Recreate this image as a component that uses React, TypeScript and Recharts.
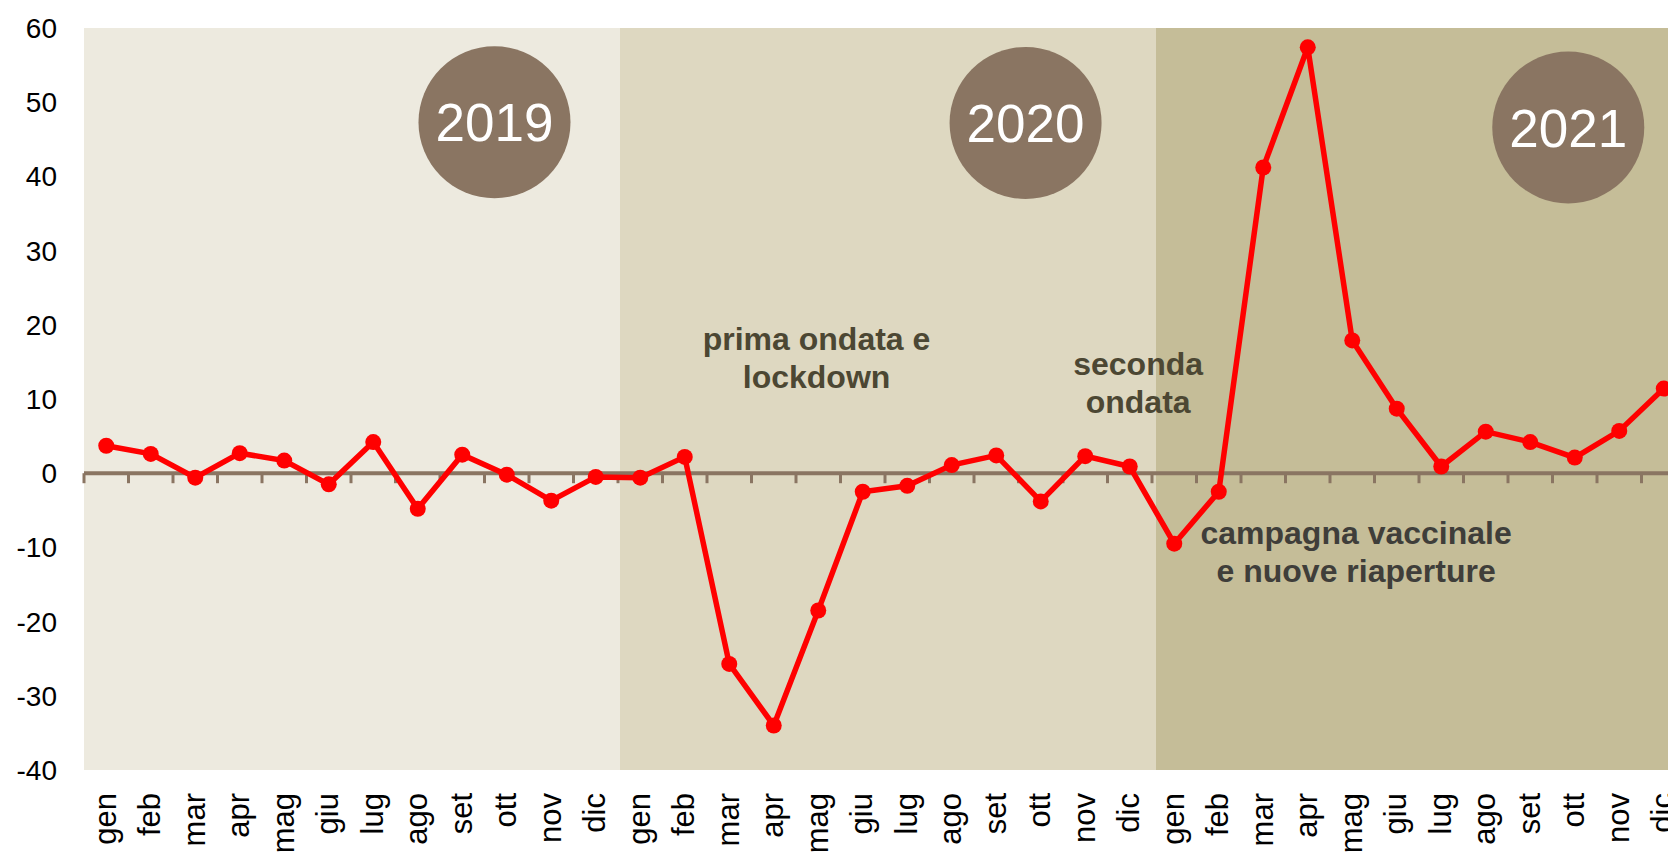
import React from 'react';
import { LineChart, Line, XAxis, YAxis, ReferenceArea, ReferenceLine, ReferenceDot } from 'recharts';

// month labels and yearly series (variazione %)
const months = ['gen', 'feb', 'mar', 'apr', 'mag', 'giu', 'lug', 'ago', 'set', 'ott', 'nov', 'dic'];
const years = ['2019', '2020', '2021'];
const values2019 = [3.7, 2.6, -0.6, 2.7, 1.7, -1.5, 4.2, -4.8, 2.5, -0.2, -3.7, -0.5];
const values2020 = [-0.6, 2.2, -25.7, -34.0, -18.5, -2.5, -1.7, 1.1, 2.4, -3.8, 2.3, 0.9];
const values2021 = [-9.5, -2.5, 41.2, 57.4, 17.9, 8.7, 0.9, 5.6, 4.2, 2.1, 5.7, 11.4];
const yTicks = [-40, -30, -20, -10, 0, 10, 20, 30, 40, 50, 60];

const FONT = '"Liberation Sans", Arial, sans-serif';
const BROWN = '#8A7562';
const bandColors = ['#EDEADF', '#DED8C1', '#C5BD98'];

// year badges and notes, placed in data units (x = month slots from start)
const yearBadges = [
  { label: '2019', x: 9.19, y: 47.3 },
  { label: '2020', x: 21.08, y: 47.2 },
  { label: '2021', x: 33.23, y: 46.6 },
];
const notes = [
  { lines: ['prima ondata e', 'lockdown'], x: 16.4, y: 16.6, color: '#4C4733' },
  { lines: ['seconda', 'ondata'], x: 23.6, y: 13.2, color: '#4C4733' },
  { lines: ['campagna vaccinale', 'e nuove riaperture'], x: 28.48, y: -9.57, color: '#3F3E3A' },
];

const series = [values2019, values2020, values2021];
const data = years.flatMap((yr, yi) =>
  months.map((m, mi) => ({ id: `${yr}-${m}`, slot: yi * 12 + mi + 0.5, value: series[yi][mi] }))
);

// the month grid of the line sits slightly narrower than the year bands
const gridPad = { left: 0, right: 6 };

const MonthTick = (props: any) => {
  const { x, y, payload } = props;
  const label = String(payload.value).split('-')[1];
  return (
    <text
      transform={`translate(${x},${y}) rotate(-90)`}
      textAnchor="end"
      dy="0.3em"
      fontSize={31}
      fontFamily={FONT}
      fill="#000"
    >
      {label}
    </text>
  );
};

const yearLabel = (text: string) => (p: any) => {
  const vb = p.viewBox || {};
  const cx = vb.x + (vb.width || 0) / 2;
  const cy = vb.y + (vb.height || 0) / 2;
  return (
    <text x={cx} y={cy} dy="0.36em" textAnchor="middle" fontSize={53} fontFamily={FONT} fill="#fff">
      {text}
    </text>
  );
};

const noteLabel = (lines: string[], color: string) => (p: any) => {
  const vb = p.viewBox || {};
  const cx = vb.x + (vb.width || 0) / 2;
  const cy = vb.y + (vb.height || 0) / 2;
  return (
    <text x={cx} y={cy} textAnchor="middle" fontSize={32} fontWeight="bold" fontFamily={FONT} fill={color}>
      {lines.map((l, i) => (
        <tspan key={i} x={cx} dy={i === 0 ? 0 : 38}>
          {l}
        </tspan>
      ))}
    </text>
  );
};

export default function App() {
  return (
    <div style={{ position: 'fixed', left: 0, top: 0, width: 1668, height: 857, overflow: 'hidden', background: '#fff' }}>
      <LineChart width={1700} height={857} data={data} margin={{ top: 28, right: 8, left: 0, bottom: 0 }}>
        <XAxis
          xAxisId="cat"
          dataKey="id"
          scale="band"
          padding={gridPad}
          interval={0}
          axisLine={false}
          tickLine={false}
          tickSize={0}
          tickMargin={23}
          height={87}
          tick={<MonthTick />}
        />
        <XAxis xAxisId="num" dataKey="slot" type="number" domain={[0, 36]} hide allowDataOverflow />
        <XAxis xAxisId="grid" dataKey="slot" type="number" domain={[0, 36]} padding={gridPad} hide allowDataOverflow />
        <YAxis
          domain={[-40, 60]}
          ticks={yTicks}
          interval={0}
          width={84}
          axisLine={false}
          tickLine={false}
          tickSize={0}
          tickMargin={27}
          tick={{ fontSize: 28, fill: '#000', fontFamily: FONT }}
        />

        {years.map((yr, i) => (
          <ReferenceArea
            key={yr}
            xAxisId="num"
            x1={i * 12}
            x2={(i + 1) * 12}
            y1={-40}
            y2={60}
            fill={bandColors[i]}
            fillOpacity={1}
            stroke="none"
          />
        ))}

        <ReferenceLine xAxisId="num" y={0} stroke={BROWN} strokeWidth={4} />
        {Array.from({ length: 37 }, (_, i) => (
          <ReferenceLine
            key={`t${i}`}
            xAxisId="grid"
            segment={[{ x: i, y: 0 }, { x: i, y: -1.35 }]}
            stroke={BROWN}
            strokeWidth={3}
          />
        ))}

        {yearBadges.map((b) => (
          <ReferenceDot
            key={b.label}
            xAxisId="num"
            x={b.x}
            y={b.y}
            r={76}
            fill={BROWN}
            stroke="none"
            label={yearLabel(b.label)}
          />
        ))}

        {notes.map((n, i) => (
          <ReferenceDot
            key={`n${i}`}
            xAxisId="num"
            x={n.x}
            y={n.y}
            r={0}
            fill="none"
            stroke="none"
            label={noteLabel(n.lines, n.color)}
          />
        ))}

        <Line
          xAxisId="cat"
          type="linear"
          dataKey="value"
          stroke="#FF0000"
          strokeWidth={5.5}
          dot={{ r: 8, fill: '#FF0000', stroke: 'none' }}
          activeDot={false}
          isAnimationActive={false}
        />
      </LineChart>
    </div>
  );
}
